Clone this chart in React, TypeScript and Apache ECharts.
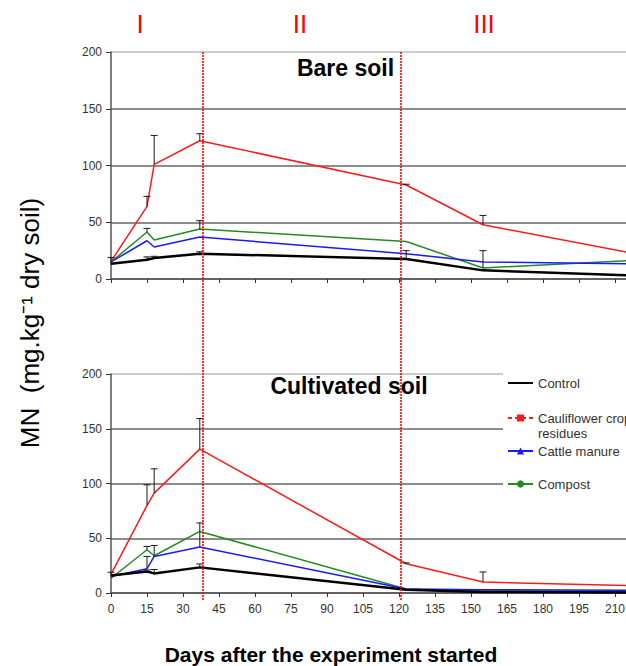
import React, { useEffect, useRef } from "react";
import * as echarts from "echarts";

// ---------- data ----------
const days = [0, 15, 18, 37, 123, 155, 220];
const seriesNames = ["Control", "Cauliflower crop residues", "Cattle manure", "Compost"];

// Bare soil (top)
const bareControl = [13.5, 17, 18.5, 22.3, 17.6, 7.6, 2.8];
const bareCauliflower = [15.5, 64, 101, 121.8, 82.8, 47.8, 21.6];
const bareCattle = [15, 33.7, 28.2, 37, 22.3, 15, 13.4];
const bareCompost = [15, 41.4, 34.4, 44, 33.1, 9.7, 16.7];

// upper ends of error bars (null = no bar)
const bareControlUpper = [19, 19.5, 20, 24, 25, null, null];
const bareCauliflowerUpper = [null, 72.8, 126.5, 128, 83.5, 56, null];
const bareCattleUpper = [null, null, null, null, null, null, null];
const bareCompostUpper = [null, 44.6, null, 51.4, null, 25, null];

// Cultivated soil (bottom)
const cultControl = [16, 19.7, 17.9, 23.4, 3, 0.9, 0.5];
const cultCauliflower = [17, 80, 91.2, 131.4, 26.7, 10, 6.6];
const cultCattle = [15, 22.2, 33.4, 42, 3.6, 3, 2.4];
const cultCompost = [13.5, 39.5, 34, 56.2, 3.6, 1.8, 1.5];

const cultControlUpper = [19, 21, 21.5, 26.5, null, null, null];
const cultCauliflowerUpper = [null, 98.8, 113.4, 159.3, 27.5, 19.2, null];
const cultCattleUpper = [null, 33.4, null, 64, null, null, null];
const cultCompostUpper = [null, 42.5, 43.4, null, null, null, null];

const phaseBoundaries = [38.5, 121];
const phaseLabels = ["I", "II", "III"];
const yTicks = { min: 0, max: 200, interval: 50 };
const xTicks = { min: 0, max: 225, interval: 15 };

// ---------- styles ----------
const FONT = 'Arial, "Liberation Sans", sans-serif';
const colors = {
  Control: "#000000",
  "Cauliflower crop residues": "#ff1a1a",
  "Cattle manure": "#1a1aff",
  Compost: "#228b22",
};
const widths = {
  Control: 2.5,
  "Cauliflower crop residues": 1.5,
  "Cattle manure": 1.5,
  Compost: 1.5,
};
const symbols = {
  Control: "none",
  "Cauliflower crop residues": "rect",
  "Cattle manure": "triangle",
  Compost: "circle",
};

const pair = (vals: number[]) => days.map((d, i) => [d, vals[i]]);
const errData = (vals: number[], upper: (number | null)[]) =>
  days
    .map((d, i) => (upper[i] == null ? null : [d, vals[i], upper[i] as number]))
    .filter((v) => v !== null) as number[][];

const errorRender = (params: any, api: any) => {
  const x = api.value(0);
  const p1 = api.coord([x, api.value(1)]);
  const p2 = api.coord([x, api.value(2)]);
  const st = { stroke: "#1a1a1a", lineWidth: 1 };
  return {
    type: "group",
    children: [
      { type: "line", shape: { x1: p1[0], y1: p1[1], x2: p2[0], y2: p2[1] }, style: st },
      { type: "line", shape: { x1: p2[0] - 3.5, y1: p2[1], x2: p2[0] + 3.5, y2: p2[1] }, style: st },
    ],
  };
};

const phaseRender = (params: any, api: any) => {
  const x = api.value(0);
  const top = api.coord([x, 1]);
  const bot = api.coord([x, 0]);
  const px = Math.round(top[0]);
  return {
    type: "line",
    shape: { x1: px, y1: top[1], x2: px, y2: bot[1] },
    style: { stroke: "#ff0000", lineWidth: 1.6, lineDash: [2, 1] },
  };
};

function buildPanel(
  gridIndex: number,
  vals: Record<string, number[]>,
  uppers: Record<string, (number | null)[]>
) {
  const order = ["Compost", "Cattle manure", "Cauliflower crop residues", "Control"];
  const out: any[] = [];
  order.forEach((name) => {
    out.push({
      type: "line",
      name,
      xAxisIndex: gridIndex,
      yAxisIndex: gridIndex,
      data: pair(vals[name]),
      symbol: symbols[name],
      symbolSize: 7,
      showSymbol: false,
      lineStyle: { color: colors[name], width: widths[name] },
      itemStyle: { color: colors[name] },
      z: 3,
    });
  });
  order.forEach((name) => {
    const d = errData(vals[name], uppers[name]);
    if (d.length)
      out.push({
        type: "custom",
        name: name + " error",
        xAxisIndex: gridIndex,
        yAxisIndex: gridIndex,
        data: d,
        encode: { x: 0, y: [1, 2] },
        renderItem: errorRender,
        z: 4,
        silent: true,
      });
  });
  return out;
}

const gridX = { left: 111, width: 540, containLabel: false, outerBoundsMode: "none" };

function makeXAxis(gridIndex: number, showLabels: boolean) {
  return {
    type: "value",
    gridIndex,
    ...xTicks,
    axisLine: { show: true, onZero: false, lineStyle: { color: "#555", width: 1.5 } },
    axisTick: { show: true, length: 4, lineStyle: { color: "#333" } },
    axisLabel: {
      show: showLabels,
      showMaxLabel: false,
      fontSize: 12,
      color: "#333",
      fontFamily: FONT,
      margin: 10,
    },
    splitLine: { show: false },
  };
}
function makeYAxis(gridIndex: number) {
  return {
    type: "value",
    gridIndex,
    ...yTicks,
    axisLine: { show: true, lineStyle: { color: "#555", width: 1.5 } },
    axisTick: { show: true, length: 5, lineStyle: { color: "#333" } },
    axisLabel: { fontSize: 12, color: "#333", fontFamily: FONT, margin: 9 },
    splitLine: {
      show: true,
      lineStyle: { color: ["#666", "#666", "#666", "#666", "#bbb"], width: 1.5 },
    },
  };
}

export default function App() {
  const ref = useRef<HTMLDivElement>(null);
  useEffect(() => {
    if (!ref.current) return;
    const chart = echarts.init(ref.current, null, { renderer: "svg" });

    const bareVals = {
      Control: bareControl,
      "Cauliflower crop residues": bareCauliflower,
      "Cattle manure": bareCattle,
      Compost: bareCompost,
    };
    const bareUp = {
      Control: bareControlUpper,
      "Cauliflower crop residues": bareCauliflowerUpper,
      "Cattle manure": bareCattleUpper,
      Compost: bareCompostUpper,
    };
    const cultVals = {
      Control: cultControl,
      "Cauliflower crop residues": cultCauliflower,
      "Cattle manure": cultCattle,
      Compost: cultCompost,
    };
    const cultUp = {
      Control: cultControlUpper,
      "Cauliflower crop residues": cultCauliflowerUpper,
      "Cattle manure": cultCattleUpper,
      Compost: cultCompostUpper,
    };

    const legendTops = [375.5, 395.5, 443.5, 476.5];
    const legends = seriesNames.map((name, i) => ({
      data: [name],
      left: 507,
      top: legendTops[i],
      orient: "vertical",
      padding: 0,
      itemWidth: 25,
      itemHeight: 9,
      z: 20,
      selectedMode: false,
      formatter: (n: string) =>
        n === "Cauliflower crop residues" ? " \nCauliflower crop\nresidues" : n,
      textStyle: {
        fontSize: 13,
        color: "#333",
        fontFamily: FONT,
        lineHeight: 15,
      },
      ...(i === 0 ? { itemStyle: { opacity: 0 } } : {}),
      ...(i === 1 ? { lineStyle: { type: [4, 3] } } : {}),
    }));

    const phaseLabelX = [140, 300, 484];

    chart.setOption({
      animation: false,
      backgroundColor: "#fff",
      grid: [
        { ...gridX, top: 52, height: 227 },
        { ...gridX, top: 374, height: 219 },
        { ...gridX, top: 52, height: 549 },
      ],
      xAxis: [
        makeXAxis(0, false),
        makeXAxis(1, true),
        { type: "value", gridIndex: 2, ...xTicks, show: false },
      ],
      yAxis: [
        makeYAxis(0),
        makeYAxis(1),
        { type: "value", gridIndex: 2, min: 0, max: 1, show: false },
      ],
      legend: legends,
      series: [
        ...buildPanel(0, bareVals, bareUp),
        ...buildPanel(1, cultVals, cultUp),
        {
          type: "custom",
          name: "phases",
          xAxisIndex: 2,
          yAxisIndex: 2,
          data: phaseBoundaries.map((x) => [x, 0]),
          encode: { x: 0, y: 1 },
          renderItem: phaseRender,
          silent: true,
          z: 5,
        },
      ],
      graphic: [
        {
          type: "rect",
          z: 10,
          shape: { x: 503, y: 370, width: 140, height: 128 },
          style: { fill: "#fff" },
        },
        ...phaseLabels.map((t, i) => ({
          type: "text",
          x: phaseLabelX[i],
          y: 24,
          style: {
            text: t,
            font: `26px ${FONT}`,
            fill: "#ff0000",
            align: "center",
            verticalAlign: "middle",
          },
        })),
        {
          type: "text",
          x: 345.5,
          y: 68,
          style: {
            text: "Bare soil",
            font: `bold 23px ${FONT}`,
            fill: "#000",
            align: "center",
            verticalAlign: "middle",
          },
        },
        {
          type: "text",
          x: 349,
          y: 386,
          style: {
            text: "Cultivated soil",
            font: `bold 23px ${FONT}`,
            fill: "#000",
            align: "center",
            verticalAlign: "middle",
          },
        },
        {
          type: "text",
          x: 30,
          y: 323,
          rotation: Math.PI / 2,
          style: {
            text: "MN  (mg.kg⁻¹ dry soil)",
            font: `26px ${FONT}`,
            fill: "#000",
            align: "center",
            verticalAlign: "middle",
          },
        },
        {
          type: "text",
          x: 331,
          y: 654,
          style: {
            text: "Days after the experiment started",
            font: `bold 21px ${FONT}`,
            fill: "#000",
            align: "center",
            verticalAlign: "middle",
          },
        },
      ],
    });
    return () => chart.dispose();
  }, []);
  return (
    <div
      ref={ref}
      style={{ position: "absolute", left: 0, top: 0, width: 626, height: 666 }}
    />
  );
}
